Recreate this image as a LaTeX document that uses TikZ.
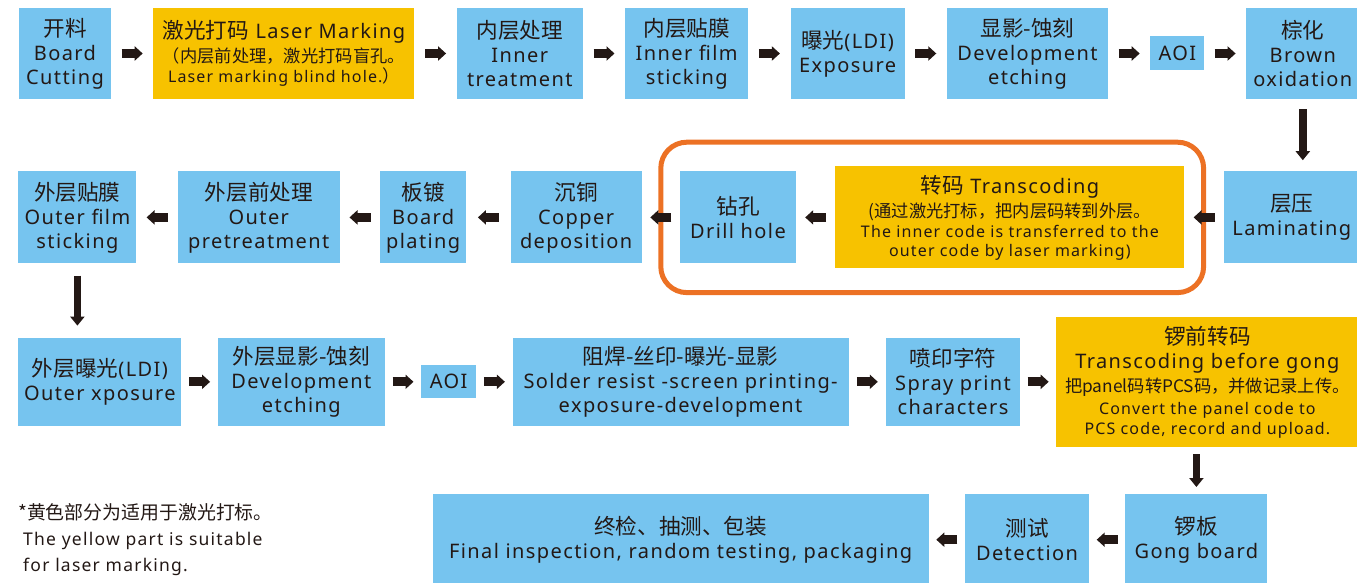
\documentclass[tikz,border=0pt]{standalone}
\usepackage{fontspec}
\setmainfont[LetterSpace=7]{Noto Sans}
\newfontfamily\cjk[Scale=1.08]{Noto Sans CJK SC}
\usetikzlibrary{arrows.meta,positioning,fit,backgrounds}

\definecolor{stepblue}{RGB}{118,196,239}
\definecolor{laseryellow}{RGB}{247,194,0}
\definecolor{frameorange}{RGB}{236,113,36}
\definecolor{ink}{RGB}{35,24,21}

\newcommand{\subtext}{\fontsize{16}{20}\selectfont}

\begin{document}
\begin{tikzpicture}[
    x=1pt, y=-1pt,
    node distance=42pt,
    box/.style={rectangle, fill=stepblue, text=ink, inner sep=0pt, minimum height=91pt, align=center, font=\fontsize{20}{24}\selectfont},
    laser/.style={box, fill=laseryellow},
    arrow/.style={draw=ink, line width=9pt, -{Triangle[length=8pt,width=14pt]}, shorten <=#1, shorten >=#1},
    arrow/.default=10.5pt,
    downarrow/.style={draw=ink, line width=7.5pt, -{Triangle[length=9pt,width=14pt]}},
    orangeframe/.style={draw=frameorange, line width=5pt, rounded corners=26pt, inner xsep=19pt, inner ysep=24pt}
]
\useasboundingbox (0,0) rectangle (1357,583);

% Row 1: inner layer
\node[box, minimum width=92pt] (cutting) at (65,53.5) {{\cjk 开料}\\Board\\Cutting};
\node[laser, minimum width=261pt, right=of cutting] (lasermark) {{\cjk 激光打码} Laser Marking\\{\subtext\cjk （内层前处理，激光打码盲孔。}\\[-4pt]{\subtext Laser marking blind hole.{\cjk ）}}};
\node[box, minimum width=126pt, right=of lasermark] (innertreat) {{\cjk 内层处理}\\Inner\\treatment};
\node[box, minimum width=123pt, right=of innertreat] (innerfilm) {{\cjk 内层贴膜}\\Inner film\\sticking};
\node[box, minimum width=114pt, right=of innerfilm] (exposure) {{\cjk 曝光}(LDI)\\Exposure};
\node[box, minimum width=161pt, right=of exposure] (develop) {{\cjk 显影-蚀刻}\\Development\\etching};
\node[box, minimum width=54pt, minimum height=34pt, right=of develop] (aoi) {AOI};
\node[box, minimum width=114pt, right=41pt of aoi] (brown) {{\cjk 棕化}\\Brown\\oxidation};

% Row 2: pressing, drilling, plating
\node[box, minimum width=136pt, minimum height=92pt, below=72pt of brown.south east, anchor=north east] (laminate) {{\cjk 层压}\\Laminating};
\node[laser, minimum width=349pt, minimum height=102pt, left=39pt of laminate] (transcode) {{\cjk 转码} Transcoding\\{\subtext\cjk (通过激光打标，把内层码转到外层。}\\[-4pt]{\subtext The inner code is transferred to the}\\[-5pt]{\subtext outer code by laser marking)}};
\node[box, minimum width=116pt, minimum height=92pt, left=39pt of transcode] (drill) {{\cjk 钻孔}\\Drill hole};
\node[box, minimum width=131pt, minimum height=92pt, left=38pt of drill] (copper) {{\cjk 沉铜}\\Copper\\deposition};
\node[box, minimum width=86pt, minimum height=92pt, left=44pt of copper] (plating) {{\cjk 板镀}\\Board\\plating};
\node[box, minimum width=162pt, minimum height=92pt, left=40pt of plating] (outerpre) {{\cjk 外层前处理}\\Outer\\pretreatment};
\node[box, minimum width=118pt, minimum height=92pt, left=41pt of outerpre] (outerfilm) {{\cjk 外层贴膜}\\Outer film\\sticking};

% Row 3: outer layer
\node[box, minimum width=163pt, minimum height=88pt, below=74pt of outerfilm.south west, anchor=north west] (outerexpo) {{\cjk 外层曝光}(LDI)\\Outer xposure};
\node[box, minimum width=167pt, minimum height=88pt, right=36pt of outerexpo] (outerdev) {{\cjk 外层显影-蚀刻}\\Development\\etching};
\node[box, minimum width=55pt, minimum height=33pt, right=36pt of outerdev] (aoitwo) {AOI};
\node[box, minimum width=336pt, minimum height=88pt, right=36pt of aoitwo] (solder) {{\cjk 阻焊-丝印-曝光-显影}\\Solder resist -screen printing-\\exposure-development};
\node[box, minimum width=134pt, minimum height=88pt, right=37pt of solder] (spray) {{\cjk 喷印字符}\\Spray print\\characters};
\node[laser, minimum width=302pt, minimum height=130pt, right=36pt of spray] (gongcode) {{\cjk 锣前转码}\\Transcoding before gong\\{\subtext\cjk 把panel码转PCS码，并做记录上传。}\\[-2pt]{\subtext Convert the panel code to}\\[-4pt]{\subtext PCS code, record and upload.}};

% Row 4: finishing
\node[box, minimum width=142pt, minimum height=91pt, below=47pt of gongcode.south west, anchor=north west, xshift=69pt] (gongboard) {{\cjk 锣板}\\Gong board};
\node[box, minimum width=124pt, minimum height=91pt, left=36pt of gongboard] (detect) {{\cjk 测试}\\Detection};
\node[box, minimum width=496pt, minimum height=91pt, left=36pt of detect] (final) {{\cjk 终检、抽测、包装}\\Final inspection, random testing, packaging};

% Note
\node[anchor=north west, align=left, text=ink, inner sep=0pt, font=\fontsize{17.5}{26}\selectfont] (note) at (18,503) {{\cjk *黄色部分为适用于激光打标。}\\\hspace{5pt}The yellow part is suitable\\\hspace{5pt}for laser marking.};

% Frame round the transcoding step
\begin{scope}[on background layer]
\node[orangeframe, fit=(drill)(transcode)] (codeframe) {};
\end{scope}

% Connections
\draw[arrow] (cutting) -- (lasermark);
\draw[arrow] (lasermark) -- (innertreat);
\draw[arrow] (innertreat) -- (innerfilm);
\draw[arrow] (innerfilm) -- (exposure);
\draw[arrow] (exposure) -- (develop);
\draw[arrow] (develop) -- (aoi);
\draw[arrow=10pt] (aoi) -- (brown);
\draw[downarrow, shorten <=10pt, shorten >=11pt] (brown.south) -- (brown.south |- laminate.north);

\draw[arrow=9pt] (laminate) -- (transcode);
\draw[arrow=9pt] (transcode) -- (drill);
\draw[arrow=8.5pt] (drill) -- (copper);
\draw[arrow=11.5pt] (copper) -- (plating);
\draw[arrow=9.5pt] (plating) -- (outerpre);
\draw[arrow=10pt] (outerpre) -- (outerfilm);
\draw[downarrow, shorten <=12pt, shorten >=12pt] (outerfilm.south) -- (outerfilm.south |- outerexpo.north);

\draw[arrow=7.5pt] (outerexpo) -- (outerdev);
\draw[arrow=7.5pt] (outerdev) -- (aoitwo);
\draw[arrow=7.5pt] (aoitwo) -- (solder);
\draw[arrow=8pt] (solder) -- (spray);
\draw[arrow=7.5pt] (spray) -- (gongcode);
\draw[downarrow, shorten <=7pt, shorten >=7pt] (gongboard.north |- gongcode.south) -- (gongboard.north);

\draw[arrow=7.5pt] (gongboard) -- (detect);
\draw[arrow=7.5pt] (detect) -- (final);

\end{tikzpicture}
\end{document}
